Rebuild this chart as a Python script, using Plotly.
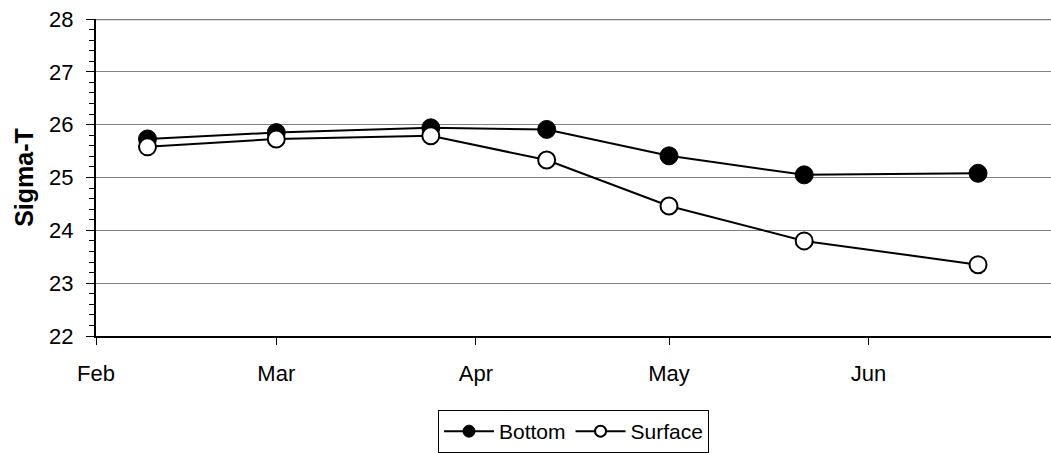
import plotly.graph_objects as go

dates = ["2001-02-09", "2001-03-01", "2001-03-25", "2001-04-12",
         "2001-05-01", "2001-05-22", "2001-06-18"]
bottom = [25.73, 25.85, 25.94, 25.91, 25.41, 25.05, 25.08]
surface = [25.58, 25.73, 25.79, 25.33, 24.46, 23.80, 23.35]
y_ticks = [22, 23, 24, 25, 26, 27, 28]

FONT = "Liberation Sans, Arial, sans-serif"

fig = go.Figure()
fig.add_trace(go.Scatter(
    x=dates, y=bottom, name="Bottom", mode="lines+markers", showlegend=False,
    line=dict(color="black", width=2),
    marker=dict(symbol="circle", size=18, color="black",
                line=dict(color="black", width=1)),
))
fig.add_trace(go.Scatter(
    x=dates, y=surface, name="Surface", mode="lines+markers", showlegend=False,
    line=dict(color="black", width=2),
    marker=dict(symbol="circle", size=17, color="white",
                line=dict(color="black", width=2)),
))
# legend entries (smaller symbols, like the reference legend)
fig.add_trace(go.Scatter(
    x=[None], y=[None], name="Bottom", mode="lines+markers",
    line=dict(color="black", width=2),
    marker=dict(symbol="circle", size=12, color="black",
                line=dict(color="black", width=1)),
))
fig.add_trace(go.Scatter(
    x=[None], y=[None], name="Surface", mode="lines+markers",
    line=dict(color="black", width=2),
    marker=dict(symbol="circle", size=11, color="white",
                line=dict(color="black", width=2)),
))

# top border line of the plot area (gray)
fig.add_shape(type="line", xref="paper", yref="y", x0=0, x1=1, y0=28, y1=28,
              line=dict(color="#808080", width=2.5), layer="below")

fig.update_layout(
    width=1051, height=453,
    margin=dict(l=96, r=0, t=19, b=110),
    paper_bgcolor="white", plot_bgcolor="white",
    font=dict(family=FONT, size=22, color="black"),
    showlegend=True,
    legend=dict(
        orientation="h", x=0.5, xanchor="center", y=-0.235, yanchor="top",
        bordercolor="black", borderwidth=1, bgcolor="white",
        font=dict(family=FONT, size=21, color="black"),
        tracegroupgap=0, itemwidth=50,
    ),
    xaxis=dict(
        type="date",
        range=["2001-02-01", "2001-06-29 08:00"],
        dtick="M1", tick0="2001-02-01", tickformat="%b",
        ticks="outside", ticklen=7, tickwidth=1, tickcolor="black",
        showline=True, linecolor="black", linewidth=2,
        showgrid=False, zeroline=False,
        ticklabelstandoff=10,
        tickfont=dict(family=FONT, size=22),
    ),
    yaxis=dict(
        range=[22, 28], tickvals=y_ticks,
        ticks="outside", ticklen=8, tickwidth=1, tickcolor="black",
        showline=True, linecolor="black", linewidth=2,
        showgrid=True, gridcolor="#808080", gridwidth=1,
        zeroline=False,
        minor=dict(dtick=0.2, ticks="outside", ticklen=5, tickcolor="black",
                   tickwidth=1, showgrid=False),
        ticklabelstandoff=8,
        tickfont=dict(family=FONT, size=22),
        title=dict(text="<b>Sigma-T</b>", font=dict(family=FONT, size=25),
                   standoff=8),
    ),
)

fig.write_html("out.html")
